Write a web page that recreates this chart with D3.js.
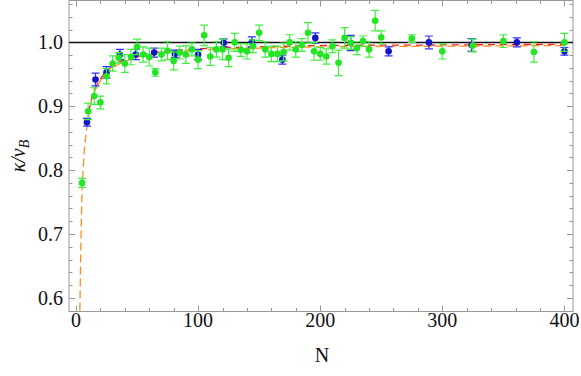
<!DOCTYPE html>
<html>
<head>
<meta charset="utf-8">
<script src="https://cdn.jsdelivr.net/npm/d3@7"></script>
<style>
  body { margin: 0; background: #fff; }
  svg { display: block; font-family: "Liberation Serif", "DejaVu Serif", serif; }
  .frame line, .frame rect { stroke: #999; }
  .tickLabel { font-size: 20px; fill: #111; }
</style>
</head>
<body>
<svg id="chart" width="581" height="376"></svg>
<script>
/* ==== Data ==== */
// green series: N, kappa/nu_B, error
var greenN = [5, 10, 15, 20, 25, 30, 35, 40, 45, 50, 55, 60, 65, 70, 75, 80, 85, 90, 95, 100,
  105, 110, 115, 120, 125, 130, 135, 140, 145, 150, 155, 160, 165, 170, 175, 180, 185, 190, 195, 200,
  205, 210, 215, 220, 225, 230, 235, 240, 245, 250, 275, 300, 325, 350, 375, 400];
var greenVal = [0.780, 0.892, 0.916, 0.906, 0.947, 0.967, 0.976, 0.967, 0.977, 0.993, 0.981, 0.977, 0.953, 0.981, 0.987, 0.971, 0.984, 0.981, 0.989, 0.973,
  1.011, 0.978, 0.989, 0.989, 0.976, 1.000, 0.988, 0.986, 0.994, 1.015, 0.989, 0.982, 0.982, 0.985, 1.000, 0.989, 0.996, 1.015, 0.986, 0.982,
  0.978, 0.994, 0.968, 1.007, 0.999, 0.991, 1.002, 0.989, 1.034, 1.008, 1.006, 0.986, 0.995, 1.002, 0.985, 1.000];
var greenErr = [0.007, 0.013, 0.013, 0.010, 0.012, 0.012, 0.008, 0.014, 0.012, 0.012, 0.012, 0.014, 0.006, 0.010, 0.014, 0.014, 0.010, 0.014, 0.010, 0.014,
  0.016, 0.014, 0.012, 0.016, 0.014, 0.014, 0.010, 0.012, 0.010, 0.012, 0.012, 0.012, 0.012, 0.014, 0.012, 0.012, 0.010, 0.016, 0.014, 0.010,
  0.012, 0.010, 0.020, 0.016, 0.010, 0.010, 0.008, 0.012, 0.016, 0.010, 0.006, 0.012, 0.010, 0.010, 0.016, 0.014];

// blue series (perfect squares)
var blueN = [9, 16, 25, 36, 49, 64, 81, 100, 121, 144, 169, 196, 225, 256, 289, 324, 361, 400];
var blueVal = [0.875, 0.942, 0.953, 0.981, 0.981, 0.984, 0.982, 0.981, 0.9995, 1.0005, 0.973, 1.007, 0.999, 0.986, 1.000, 0.996, 1.000, 0.986];
var blueErr = [0.006, 0.010, 0.009, 0.008, 0.008, 0.007, 0.006, 0.008, 0.006, 0.008, 0.007, 0.008, 0.012, 0.007, 0.010, 0.010, 0.007, 0.006];

// fitted curves
var orangeN = [3.2, 4, 5, 6, 7, 8, 9, 10, 12, 14, 17, 20, 25, 30, 40, 50, 60, 80, 100, 150, 200, 300, 400];
var orangeVal = [0.58, 0.68, 0.765, 0.805, 0.835, 0.852, 0.868, 0.882, 0.902, 0.917, 0.930, 0.940, 0.952, 0.960, 0.970, 0.977, 0.981, 0.985, 0.988, 0.991, 0.993, 0.994, 0.995];
var redN = [9, 10, 12, 14, 17, 20, 25, 30, 40, 50, 60, 80, 100, 150, 200, 300, 400];
var redVal = [0.876, 0.888, 0.906, 0.920, 0.933, 0.943, 0.955, 0.963, 0.973, 0.979, 0.983, 0.987, 0.990, 0.993, 0.995, 0.996, 0.997];

var xTicks = [0, 100, 200, 300, 400];
var yTicks = [0.6, 0.7, 0.8, 0.9, 1.0];

/* ==== Layout ==== */
var LEFT = 69, RIGHT = 573, TOP = 0.5, BOTTOM = 311.5;
var svg = d3.select("#chart");

var x = d3.scaleLinear().domain([-5.7, 407]).range([LEFT, RIGHT]);
var y = d3.scaleLinear().domain([0.5786, 1.0656]).range([BOTTOM, TOP]);

svg.append("defs").append("clipPath").attr("id", "plotClip")
  .append("rect").attr("x", LEFT).attr("y", TOP).attr("width", RIGHT - LEFT).attr("height", BOTTOM - TOP);

/* ==== Frame & ticks ==== */
var frame = svg.append("g").attr("class", "frame");
frame.append("rect")
  .attr("x", LEFT).attr("y", TOP).attr("width", RIGHT - LEFT).attr("height", BOTTOM - TOP)
  .attr("fill", "none").attr("stroke-width", 1);

var xMinor = d3.range(0, 401, 20);
xMinor.forEach(function(v) {
  var major = v % 100 == 0;
  var len = major ? 6 : 3.5;
  var px = Math.round(x(v)) + 0.5;
  frame.append("line").attr("x1", px).attr("x2", px).attr("y1", BOTTOM).attr("y2", BOTTOM - len);
  frame.append("line").attr("x1", px).attr("x2", px).attr("y1", TOP).attr("y2", TOP + len);
});
var yMinor = d3.range(0.58, 1.061, 0.02);
yMinor.forEach(function(v) {
  var major = Math.abs(v * 10 - Math.round(v * 10)) < 1e-6;
  var len = major ? 6 : 3.5;
  var py = Math.round(y(v)) + 0.5;
  frame.append("line").attr("y1", py).attr("y2", py).attr("x1", LEFT).attr("x2", LEFT + len);
  frame.append("line").attr("y1", py).attr("y2", py).attr("x1", RIGHT).attr("x2", RIGHT - len);
});

svg.append("g").selectAll("text").data(xTicks).enter().append("text")
  .attr("class", "tickLabel")
  .attr("x", d => x(d)).attr("y", 327)
  .attr("text-anchor", "middle")
  .text(d => d);

svg.append("g").selectAll("text").data(yTicks).enter().append("text")
  .attr("class", "tickLabel")
  .attr("x", 63).attr("y", d => y(d) + 7)
  .attr("text-anchor", "end")
  .text(d => d.toFixed(1));

svg.append("text").attr("class", "tickLabel")
  .attr("x", 322).attr("y", 362).attr("text-anchor", "middle").text("N");

var yTitle = svg.append("text").attr("class", "tickLabel")
  .attr("transform", "translate(25,156) rotate(-90)")
  .attr("text-anchor", "middle")
  .style("font-style", "italic");
yTitle.append("tspan").text("κ/ν");
yTitle.append("tspan").attr("dy", 4).style("font-size", "14px").text("B");

/* ==== Plot contents ==== */
var plot = svg.append("g").attr("clip-path", "url(#plotClip)");

plot.append("line")
  .attr("x1", LEFT).attr("x2", RIGHT)
  .attr("y1", y(1)).attr("y2", y(1))
  .attr("stroke", "#111").attr("stroke-width", 1.5);

var curve = d3.line().x(d => x(d[0])).y(d => y(d[1])).curve(d3.curveMonotoneX);

plot.append("path")
  .attr("d", curve(d3.zip(redN, redVal)))
  .attr("fill", "none").attr("stroke", "#f02020").attr("stroke-width", 1.3)
  .attr("stroke-dasharray", "7,5").attr("stroke-dashoffset", 3);

plot.append("path")
  .attr("d", curve(d3.zip(orangeN, orangeVal)))
  .attr("fill", "none").attr("stroke", "#ff8c1a").attr("stroke-width", 1.3)
  .attr("stroke-dasharray", "8,4");

function drawSeries(ns, vals, errs, barColor, dotColor) {
  var pts = d3.zip(ns, vals, errs);
  var g = plot.append("g");
  var CAP = 4;
  var bars = g.selectAll(".bar").data(pts).enter().append("g")
    .attr("stroke", barColor).attr("stroke-width", 1.2);
  bars.append("line")
    .attr("x1", d => x(d[0])).attr("x2", d => x(d[0]))
    .attr("y1", d => y(d[1] - d[2])).attr("y2", d => y(d[1] + d[2]));
  bars.append("line")
    .attr("x1", d => x(d[0]) - CAP).attr("x2", d => x(d[0]) + CAP)
    .attr("y1", d => y(d[1] + d[2])).attr("y2", d => y(d[1] + d[2]));
  bars.append("line")
    .attr("x1", d => x(d[0]) - CAP).attr("x2", d => x(d[0]) + CAP)
    .attr("y1", d => y(d[1] - d[2])).attr("y2", d => y(d[1] - d[2]));
  g.selectAll(".dot").data(pts).enter().append("circle")
    .attr("cx", d => x(d[0])).attr("cy", d => y(d[1]))
    .attr("r", 3.3).attr("fill", dotColor);
}

drawSeries(blueN, blueVal, blueErr, "#3030ff", "#1515c8");
drawSeries(greenN, greenVal, greenErr, "#40f040", "#22e622");
</script>
</body>
</html>
